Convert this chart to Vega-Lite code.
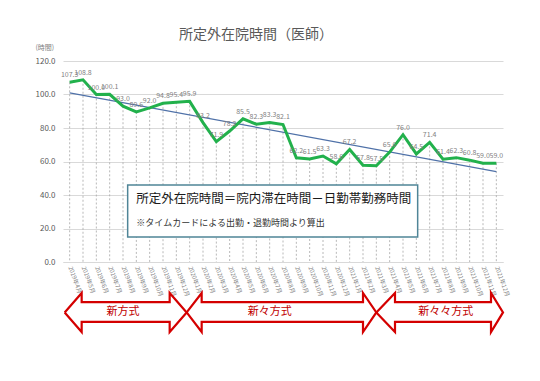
{
  "$schema": "https://vega.github.io/schema/vega-lite/v6.json",
  "width": 440,
  "height": 201,
  "autosize": {"type": "none"},
  "padding": {"left": 63, "top": 61, "right": 37, "bottom": 119},
  "background": "white",
  "config": {
    "font": "Noto Sans CJK JP",
    "view": {"stroke": null},
    "axisY": {
      "tickCount": 6,
      "format": ".1f",
      "titleAngle": 0,
      "titleFontSize": 7,
      "titleFontWeight": "normal",
      "titleColor": "#7f7f7f",
      "titleAlign": "left",
      "titleBaseline": "middle",
      "titleX": -28,
      "titleY": -14,
      "labelFontSize": 8,
      "labelColor": "#595959",
      "labelPadding": 8,
      "labelOverlap": false,
      "domain": false,
      "ticks": false,
      "gridColor": "#d9d9d9"
    }
  },
  "title": {
    "text": "所定外在院時間（医師）",
    "fontSize": 14,
    "fontWeight": "normal",
    "color": "#595959",
    "anchor": "middle",
    "frame": "group",
    "dx": -27,
    "offset": 1
  },
  "datasets": {
    "hours": [
      {"month": "2019年4月", "value": 107.3},
      {"month": "2019年5月", "value": 108.8},
      {"month": "2019年6月", "value": 100.0},
      {"month": "2019年7月", "value": 100.1},
      {"month": "2019年8月", "value": 93.0},
      {"month": "2019年9月", "value": 89.6},
      {"month": "2019年10月", "value": 92.0},
      {"month": "2019年11月", "value": 94.8},
      {"month": "2019年12月", "value": 95.4},
      {"month": "2020年1月", "value": 95.9},
      {"month": "2020年2月", "value": 83.2},
      {"month": "2020年3月", "value": 71.9},
      {"month": "2020年4月", "value": 78.2},
      {"month": "2020年5月", "value": 85.5},
      {"month": "2020年6月", "value": 82.3},
      {"month": "2020年7月", "value": 83.3},
      {"month": "2020年8月", "value": 82.1},
      {"month": "2020年9月", "value": 62.2},
      {"month": "2020年10月", "value": 61.5},
      {"month": "2020年11月", "value": 63.3},
      {"month": "2020年12月", "value": 58.6},
      {"month": "2021年1月", "value": 67.2},
      {"month": "2021年2月", "value": 57.8},
      {"month": "2021年3月", "value": 57.5},
      {"month": "2021年4月", "value": 65.6},
      {"month": "2021年5月", "value": 76.0},
      {"month": "2021年6月", "value": 64.5},
      {"month": "2021年7月", "value": 71.4},
      {"month": "2021年8月", "value": 61.4},
      {"month": "2021年9月", "value": 62.3},
      {"month": "2021年10月", "value": 60.8},
      {"month": "2021年11月", "value": 59.0},
      {"month": "2021年12月", "value": 59.0}
    ],
    "trend": [
      {"month": "2019年4月", "trend": 101.0},
      {"month": "2021年12月", "trend": 54.0}
    ],
    "arrows": [
      {"arrow": "a1", "ord": 0, "ax": -0.375, "ay": -30.1},
      {"arrow": "a1", "ord": 1, "ax": 0.9, "ay": -18.5},
      {"arrow": "a1", "ord": 2, "ax": 0.9, "ay": -23.9},
      {"arrow": "a1", "ord": 3, "ax": 7.5, "ay": -23.9},
      {"arrow": "a1", "ord": 4, "ax": 7.5, "ay": -18.5},
      {"arrow": "a1", "ord": 5, "ax": 8.775, "ay": -30.1},
      {"arrow": "a1", "ord": 6, "ax": 7.5, "ay": -41.8},
      {"arrow": "a1", "ord": 7, "ax": 7.5, "ay": -35.8},
      {"arrow": "a1", "ord": 8, "ax": 0.9, "ay": -35.8},
      {"arrow": "a1", "ord": 9, "ax": 0.9, "ay": -41.8},
      {"arrow": "a1", "ord": 10, "ax": -0.375, "ay": -30.1},
      {"arrow": "a2", "ord": 0, "ax": 8.775, "ay": -30.1},
      {"arrow": "a2", "ord": 1, "ax": 9.9, "ay": -18.5},
      {"arrow": "a2", "ord": 2, "ax": 9.9, "ay": -23.9},
      {"arrow": "a2", "ord": 3, "ax": 22.0, "ay": -23.9},
      {"arrow": "a2", "ord": 4, "ax": 22.0, "ay": -18.5},
      {"arrow": "a2", "ord": 5, "ax": 23.0, "ay": -30.1},
      {"arrow": "a2", "ord": 6, "ax": 22.0, "ay": -41.8},
      {"arrow": "a2", "ord": 7, "ax": 22.0, "ay": -35.8},
      {"arrow": "a2", "ord": 8, "ax": 9.9, "ay": -35.8},
      {"arrow": "a2", "ord": 9, "ax": 9.9, "ay": -41.8},
      {"arrow": "a2", "ord": 10, "ax": 8.775, "ay": -30.1},
      {"arrow": "a3", "ord": 0, "ax": 23.0, "ay": -30.1},
      {"arrow": "a3", "ord": 1, "ax": 24.4, "ay": -18.5},
      {"arrow": "a3", "ord": 2, "ax": 24.4, "ay": -23.9},
      {"arrow": "a3", "ord": 3, "ax": 31.6, "ay": -23.9},
      {"arrow": "a3", "ord": 4, "ax": 31.6, "ay": -18.5},
      {"arrow": "a3", "ord": 5, "ax": 32.5, "ay": -30.1},
      {"arrow": "a3", "ord": 6, "ax": 31.6, "ay": -41.8},
      {"arrow": "a3", "ord": 7, "ax": 31.6, "ay": -35.8},
      {"arrow": "a3", "ord": 8, "ax": 24.4, "ay": -35.8},
      {"arrow": "a3", "ord": 9, "ax": 24.4, "ay": -41.8},
      {"arrow": "a3", "ord": 10, "ax": 23.0, "ay": -30.1}
    ],
    "arrowLabels": [
      {"label": "新方式", "ax": 4.0, "ay": -30.1},
      {"label": "新々方式", "ax": 15.0, "ay": -30.1},
      {"label": "新々々方式", "ax": 28.2, "ay": -30.1}
    ],
    "box": [
      {"x1": 4.35, "x2": 26.1, "y1": 46.0, "y2": 14.9}
    ],
    "boxText": [
      {"text": "所定外在院時間＝院内滞在時間－日勤帯勤務時間", "ax": 5.0, "ay": 37.5, "kind": "main"},
      {"text": "※タイムカードによる出勤・退勤時間より算出", "ax": 5.0, "ay": 23.5, "kind": "note"}
    ]
  },
  "resolve": {"scale": {"x": "independent"}},
  "layer": [
    {
      "encoding": {
        "x": {
          "field": "month",
          "type": "ordinal",
          "scale": {
            "type": "point",
            "padding": 0.5,
            "domain": ["2019年4月","2019年5月","2019年6月","2019年7月","2019年8月","2019年9月","2019年10月","2019年11月","2019年12月","2020年1月","2020年2月","2020年3月","2020年4月","2020年5月","2020年6月","2020年7月","2020年8月","2020年9月","2020年10月","2020年11月","2020年12月","2021年1月","2021年2月","2021年3月","2021年4月","2021年5月","2021年6月","2021年7月","2021年8月","2021年9月","2021年10月","2021年11月","2021年12月"]
          },
          "axis": {
            "title": null,
            "labelAngle": 70,
            "labelAlign": "left",
            "labelBaseline": "middle",
            "labelFontSize": 6,
            "labelColor": "#7f7f7f",
            "labelPadding": 4,
            "labelOverlap": false,
            "ticks": false,
            "domainColor": "#d9d9d9",
            "grid": false
          }
        }
      },
      "layer": [
        {
          "data": {"name": "hours"},
          "mark": {"type": "rule", "color": "#a6a6a6", "strokeDash": [2, 2], "strokeWidth": 0.8},
          "encoding": {
            "y": {"field": "value", "type": "quantitative", "scale": {"domain": [0, 120], "nice": false}, "axis": {"title": "(時間)"}},
            "y2": {"datum": 0}
          }
        },
        {
          "data": {"name": "trend"},
          "mark": {"type": "line", "color": "#4f71a8", "strokeWidth": 1.2},
          "encoding": {
            "y": {"field": "trend", "type": "quantitative", "scale": {"domain": [0, 120], "nice": false}, "axis": {"title": "(時間)"}}
          }
        },
        {
          "data": {"name": "hours"},
          "mark": {"type": "line", "color": "#22b14c", "strokeWidth": 3},
          "encoding": {
            "y": {"field": "value", "type": "quantitative", "scale": {"domain": [0, 120], "nice": false}, "axis": {"title": "(時間)"}}
          }
        },
        {
          "data": {"name": "hours"},
          "mark": {"type": "text", "fontSize": 7, "color": "#7f7f7f", "dy": -7},
          "encoding": {
            "y": {"field": "value", "type": "quantitative", "scale": {"domain": [0, 120], "nice": false}, "axis": {"title": "(時間)"}},
            "text": {"field": "value", "type": "quantitative", "format": ".1f"}
          }
        }
      ]
    },
    {
      "encoding": {
        "x": {"field": "ax", "type": "quantitative", "scale": {"domain": [-0.5, 32.5], "nice": false, "zero": false}, "axis": null}
      },
      "layer": [
        {
          "data": {"name": "box"},
          "mark": {"type": "rect", "fill": "white", "stroke": "#4f8597", "strokeWidth": 1.5},
          "encoding": {
            "x": {"field": "x1", "type": "quantitative", "scale": {"domain": [-0.5, 32.5], "nice": false, "zero": false}, "axis": null},
            "x2": {"field": "x2"},
            "y": {"field": "y1", "type": "quantitative", "scale": {"domain": [0, 120], "nice": false}, "axis": {"title": "(時間)"}},
            "y2": {"field": "y2"}
          }
        },
        {
          "data": {"name": "boxText"},
          "transform": [{"filter": "datum.kind === 'main'"}],
          "mark": {"type": "text", "fontSize": 12.5, "color": "#1a1a1a", "align": "left", "baseline": "middle"},
          "encoding": {
            "y": {"field": "ay", "type": "quantitative", "scale": {"domain": [0, 120], "nice": false}, "axis": {"title": "(時間)"}},
            "text": {"field": "text"}
          }
        },
        {
          "data": {"name": "boxText"},
          "transform": [{"filter": "datum.kind === 'note'"}],
          "mark": {"type": "text", "fontSize": 9, "color": "#333333", "align": "left", "baseline": "middle"},
          "encoding": {
            "y": {"field": "ay", "type": "quantitative", "scale": {"domain": [0, 120], "nice": false}, "axis": {"title": "(時間)"}},
            "text": {"field": "text"}
          }
        },
        {
          "data": {"name": "arrows"},
          "mark": {"type": "line", "color": "#d40000", "strokeWidth": 2.2, "strokeJoin": "miter"},
          "encoding": {
            "y": {"field": "ay", "type": "quantitative", "scale": {"domain": [0, 120], "nice": false}, "axis": {"title": "(時間)"}},
            "detail": {"field": "arrow"},
            "order": {"field": "ord", "type": "quantitative"}
          }
        },
        {
          "data": {"name": "arrowLabels"},
          "mark": {"type": "text", "fontSize": 11, "color": "#c00000", "baseline": "middle"},
          "encoding": {
            "y": {"field": "ay", "type": "quantitative", "scale": {"domain": [0, 120], "nice": false}, "axis": {"title": "(時間)"}},
            "text": {"field": "label"}
          }
        }
      ]
    }
  ]
}
